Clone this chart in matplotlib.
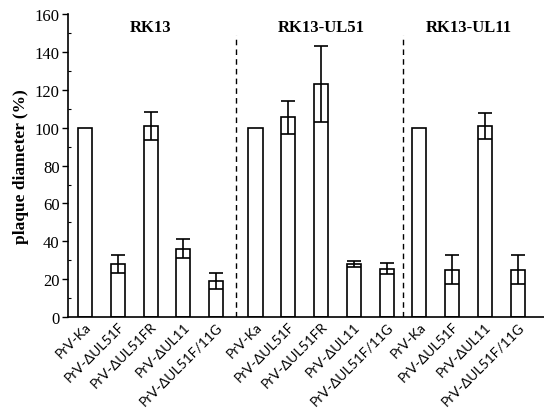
import matplotlib
matplotlib.use("Agg")
import matplotlib.pyplot as plt
import numpy as np
from matplotlib.ticker import MultipleLocator

# data
labels = ["PrV-Ka", "PrV-\u0394UL51F", "PrV-\u0394UL51FR", "PrV-\u0394UL11", "PrV-\u0394UL51F/11G",
          "PrV-Ka", "PrV-\u0394UL51F", "PrV-\u0394UL51FR", "PrV-\u0394UL11", "PrV-\u0394UL51F/11G",
          "PrV-Ka", "PrV-\u0394UL51F", "PrV-\u0394UL11", "PrV-\u0394UL51F/11G"]
values = [100, 28, 101, 36, 19,
          100, 105.5, 123, 28, 25.5,
          100, 25, 101, 25]
errors = [0, 4.5, 7.3, 5, 4.2,
          0, 8.8, 20.2, 1.5, 3,
          0, 7.6, 6.7, 7.6]
groups = ["RK13", "RK13-UL51", "RK13-UL11"]
group_size = [5, 5, 4]

# layout
offsets = [0.0, 0.2, 0.2]
pos = []
k = 0
for g, n in enumerate(group_size):
    for i in range(n):
        pos.append(k + offsets[g])
        k += 1
pos = np.array(pos)

serif = "Liberation Serif"

fig = plt.figure(figsize=(5.44, 4.10), dpi=100)
ax = fig.add_axes([0.125, 0.2244, 0.875, 0.7386])

ax.bar(pos, values, width=0.43, color="white", edgecolor="black", linewidth=1.2, zorder=2)
has_err = np.array(errors) > 0
ax.errorbar(pos[has_err], np.array(values)[has_err], yerr=np.array(errors)[has_err],
            fmt="none", ecolor="black", elinewidth=1.2, capsize=5, capthick=1.2, zorder=3)

# dashed separators between groups
starts = np.cumsum([0] + group_size)
for g in range(1, len(groups)):
    xs = (pos[starts[g] - 1] + pos[starts[g]]) / 2
    ax.plot([xs, xs], [0, 149], color="black", ls=(0, (4, 3)), lw=1.0, zorder=1)

# group titles
for g, name in enumerate(groups):
    xc = pos[starts[g]:starts[g + 1]].mean()
    ax.text(xc, 153, name, ha="center", va="center", fontsize=12,
            fontweight="bold", family=serif)

ax.set_xlim(-0.52, 14.0)
ax.set_ylim(0, 160)
ax.yaxis.set_major_locator(MultipleLocator(20))
ax.yaxis.set_minor_locator(MultipleLocator(10))
ax.tick_params(axis="y", which="major", direction="out", length=4, width=1.0, labelsize=12, pad=2)
ax.tick_params(axis="y", which="minor", direction="in", length=2, width=0.8)
ax.tick_params(axis="x", length=0, pad=2)
for t in ax.get_yticklabels():
    t.set_family(serif)

ax.set_xticks(pos)
ax.set_xticklabels(labels, rotation=45, ha="right", rotation_mode="anchor",
                   fontsize=10, family="Lato")

for s in ["top", "right"]:
    ax.spines[s].set_visible(False)
ax.spines["left"].set_linewidth(1.2)
ax.spines["bottom"].set_linewidth(1.2)

ax.set_ylabel("plaque diameter (%)", fontsize=12.5, fontweight="bold", family=serif, labelpad=4)

fig.savefig("out.png", dpi=100)
